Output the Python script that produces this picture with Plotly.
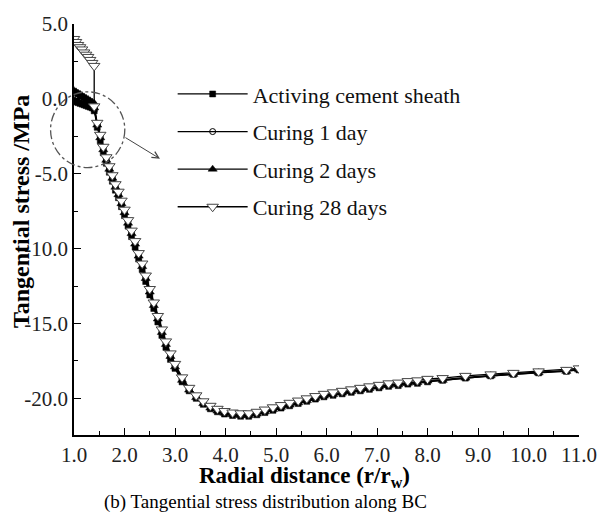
import plotly.graph_objects as go

# ---------------- data ----------------
r_cement = [1.00, 1.04, 1.08, 1.12, 1.16, 1.20, 1.24, 1.28, 1.32, 1.36, 1.40]
r_formation = [1.40, 1.46, 1.52, 1.58, 1.64, 1.70, 1.76, 1.82, 1.88, 1.94,
               2.00, 2.07, 2.14, 2.21, 2.28, 2.35, 2.42, 2.50, 2.58, 2.66,
               2.74, 2.82, 2.91, 3.00, 3.14, 3.28, 3.42, 3.56, 3.70, 3.84,
               3.98, 4.14, 4.30, 4.46, 4.62, 4.78, 4.94, 5.10, 5.27, 5.44,
               5.61, 5.78, 5.95, 6.13, 6.31, 6.49, 6.67, 6.85, 7.04, 7.23,
               7.42, 7.61, 7.80, 8.00, 8.30, 8.75, 9.25, 9.70, 10.20, 10.75,
               11.00]

activating_cement = [-0.15, -0.2, -0.25, -0.3, -0.35, -0.4, -0.45, -0.5, -0.55, -0.6, -0.65]
activating_formation = [-0.8, -1.9, -2.8, -3.6, -4.3, -4.9, -5.5, -6.1, -6.6, -7.2,
                        -7.8, -8.5, -9.2, -9.9, -10.7, -11.4, -12.2, -13.1, -14.0, -14.9,
                        -15.8, -16.6, -17.4, -18.0, -18.9, -19.5, -20.0, -20.4, -20.7, -20.9,
                        -21.05, -21.15, -21.2, -21.2, -21.1, -20.95, -20.8, -20.65, -20.5, -20.35,
                        -20.2, -20.05, -19.9, -19.8, -19.7, -19.6, -19.5, -19.4, -19.3, -19.2,
                        -19.15, -19.05, -19.0, -18.9, -18.8, -18.65, -18.5, -18.4, -18.3, -18.2,
                        -18.1]

curing1_cement = [0.30, 0.22, 0.14, 0.06, -0.02, -0.10, -0.18, -0.26, -0.34, -0.42, -0.50]
curing1_formation = [-0.6, -1.7, -2.5, -3.3, -4.0, -4.6, -5.2, -5.8, -6.3, -6.9,
                     -7.5, -8.2, -8.9, -9.6, -10.4, -11.1, -11.9, -12.8, -13.7, -14.6,
                     -15.5, -16.3, -17.1, -17.8, -18.7, -19.4, -19.9, -20.3, -20.6, -20.8,
                     -20.95, -21.05, -21.1, -21.1, -21.0, -20.85, -20.7, -20.55, -20.4, -20.25,
                     -20.1, -19.95, -19.8, -19.7, -19.6, -19.5, -19.4, -19.3, -19.2, -19.1,
                     -19.05, -18.95, -18.9, -18.8, -18.75, -18.6, -18.45, -18.35, -18.25, -18.15,
                     -18.05]

curing2_cement = [0.55, 0.47, 0.38, 0.30, 0.21, 0.13, 0.04, -0.04, -0.13, -0.21, -0.30]
curing2_formation = [-0.6, -1.75, -2.6, -3.4, -4.1, -4.7, -5.3, -5.9, -6.4, -7.0,
                     -7.6, -8.3, -9.0, -9.7, -10.5, -11.2, -12.0, -12.9, -13.8, -14.7,
                     -15.6, -16.4, -17.2, -17.9, -18.8, -19.45, -19.95, -20.35, -20.65, -20.85,
                     -21.0, -21.1, -21.15, -21.15, -21.05, -20.9, -20.75, -20.6, -20.45, -20.3,
                     -20.15, -20.0, -19.85, -19.75, -19.65, -19.55, -19.45, -19.35, -19.25, -19.15,
                     -19.1, -19.0, -18.95, -18.85, -18.8, -18.65, -18.5, -18.4, -18.3, -18.2,
                     -18.1]

curing28_cement = [4.0, 3.8, 3.6, 3.45, 3.3, 3.1, 2.95, 2.8, 2.6, 2.4, 2.2]
curing28_formation = [-0.5, -1.6, -2.4, -3.2, -3.9, -4.5, -5.1, -5.7, -6.2, -6.8,
                      -7.4, -8.1, -8.8, -9.5, -10.3, -11.0, -11.8, -12.7, -13.6, -14.5,
                      -15.4, -16.2, -17.0, -17.7, -18.6, -19.3, -19.8, -20.2, -20.5, -20.7,
                      -20.85, -20.95, -21.0, -21.0, -20.9, -20.75, -20.6, -20.45, -20.3, -20.15,
                      -20.0, -19.85, -19.7, -19.6, -19.5, -19.4, -19.3, -19.2, -19.1, -19.0,
                      -18.95, -18.85, -18.8, -18.7, -18.65, -18.5, -18.4, -18.3, -18.2, -18.1,
                      -18.0]

series_names = ["Activing cement sheath", "Curing 1 day", "Curing 2 days", "Curing 28 days"]

x_tickvals = [1, 2, 3, 4, 5, 6, 7, 8, 9, 10, 11]
x_ticktext = ["1.0", "2.0", "3.0", "4.0", "5.0", "6.0", "7.0", "8.0", "9.0", "10.0", "11.0"]
y_tickvals = [5, 0, -5, -10, -15, -20]
y_ticktext = ["5.0", "0.0", "-5.0", "-10.0", "-15.0", "-20.0"]

# ---------------- figure ----------------
SERIF = "Liberation Serif"
W, H = 609, 522
L, R, T, B = 74, 18, 17, 87
PW, PH = W - L - R, H - T - B


def px_x(p):
    return (p - L) / PW


def px_y(p):
    return (H - B - p) / PH


styles = [
    dict(symbol="square", size=6, color="black", line=dict(color="black", width=0.5)),
    dict(symbol="circle-open", size=6, color="black", line=dict(width=1)),
    dict(symbol="triangle-up", size=8, color="black", line=dict(color="black", width=0.5)),
    dict(symbol="triangle-down", size=10, color="white", line=dict(color="#444", width=1)),
]
data_c = [activating_cement, curing1_cement, curing2_cement, curing28_cement]
data_f = [activating_formation, curing1_formation, curing2_formation, curing28_formation]

fig = go.Figure()
for i, name in enumerate(series_names):
    fig.add_trace(go.Scatter(
        x=r_cement + r_formation,
        y=data_c[i] + data_f[i],
        mode="lines+markers",
        name=name,
        legendgroup=name,
        line=dict(color="black", width=1.3),
        marker=styles[i],
    ))

axis_common = dict(
    showline=True, linecolor="black", linewidth=1.5,
    ticks="inside", ticklen=7, tickwidth=1.3, tickcolor="black",
    showgrid=False, zeroline=False,
    tickfont=dict(family=SERIF, size=21, color="#222"),
)

fig.update_layout(
    width=W, height=H,
    margin=dict(l=L, r=R, t=T, b=B),
    paper_bgcolor="white", plot_bgcolor="white",
    xaxis=dict(range=[1, 11], tickmode="array", tickvals=x_tickvals, ticktext=x_ticktext,
               minor=dict(ticks="inside", ticklen=4, tickwidth=1.3, tickcolor="black", dtick=0.5, tick0=0),
               **axis_common),
    yaxis=dict(range=[-22.45, 5.0], tickmode="array", tickvals=y_tickvals, ticktext=y_ticktext,
               minor=dict(ticks="inside", ticklen=4, tickwidth=1.3, tickcolor="black", dtick=2.5, tick0=0),
               **axis_common),
    showlegend=True,
    legend=dict(x=px_x(175), xanchor="left", y=px_y(67), yanchor="top",
                bgcolor="rgba(0,0,0,0)", borderwidth=0,
                font=dict(family=SERIF, size=22, color="#111"),
                itemwidth=70, traceorder="grouped", tracegroupgap=6),
    shapes=[dict(type="circle", xref="paper", yref="paper",
                 x0=px_x(50), x1=px_x(126), y0=px_y(163), y1=px_y(86),
                 line=dict(color="#555", width=1.3, dash="dashdot"))],
    annotations=[
        dict(xref="paper", yref="paper", x=px_x(162), y=px_y(154), ax=-36, ay=-22,
             showarrow=True, arrowhead=5, arrowsize=1.3, arrowwidth=1, arrowcolor="#444", text=""),
        dict(xref="paper", yref="paper", x=px_x(20), y=px_y(208), textangle=-90,
             text="<b>Tangential stress /MPa</b>", showarrow=False,
             font=dict(family=SERIF, size=24, color="black"), xanchor="center", yanchor="middle"),
        dict(xref="paper", yref="paper", x=px_x(310), y=px_y(478),
             text="<b>Radial distance (r/r<sub>w</sub>)</b>", showarrow=False,
             font=dict(family=SERIF, size=23, color="black"), xanchor="center", yanchor="middle"),
        dict(xref="paper", yref="paper", x=px_x(270), y=px_y(503),
             text="(b) Tangential stress distribution along BC", showarrow=False,
             font=dict(family=SERIF, size=19, color="black"), xanchor="center", yanchor="middle"),
    ],
)

fig.write_html("out.html")
